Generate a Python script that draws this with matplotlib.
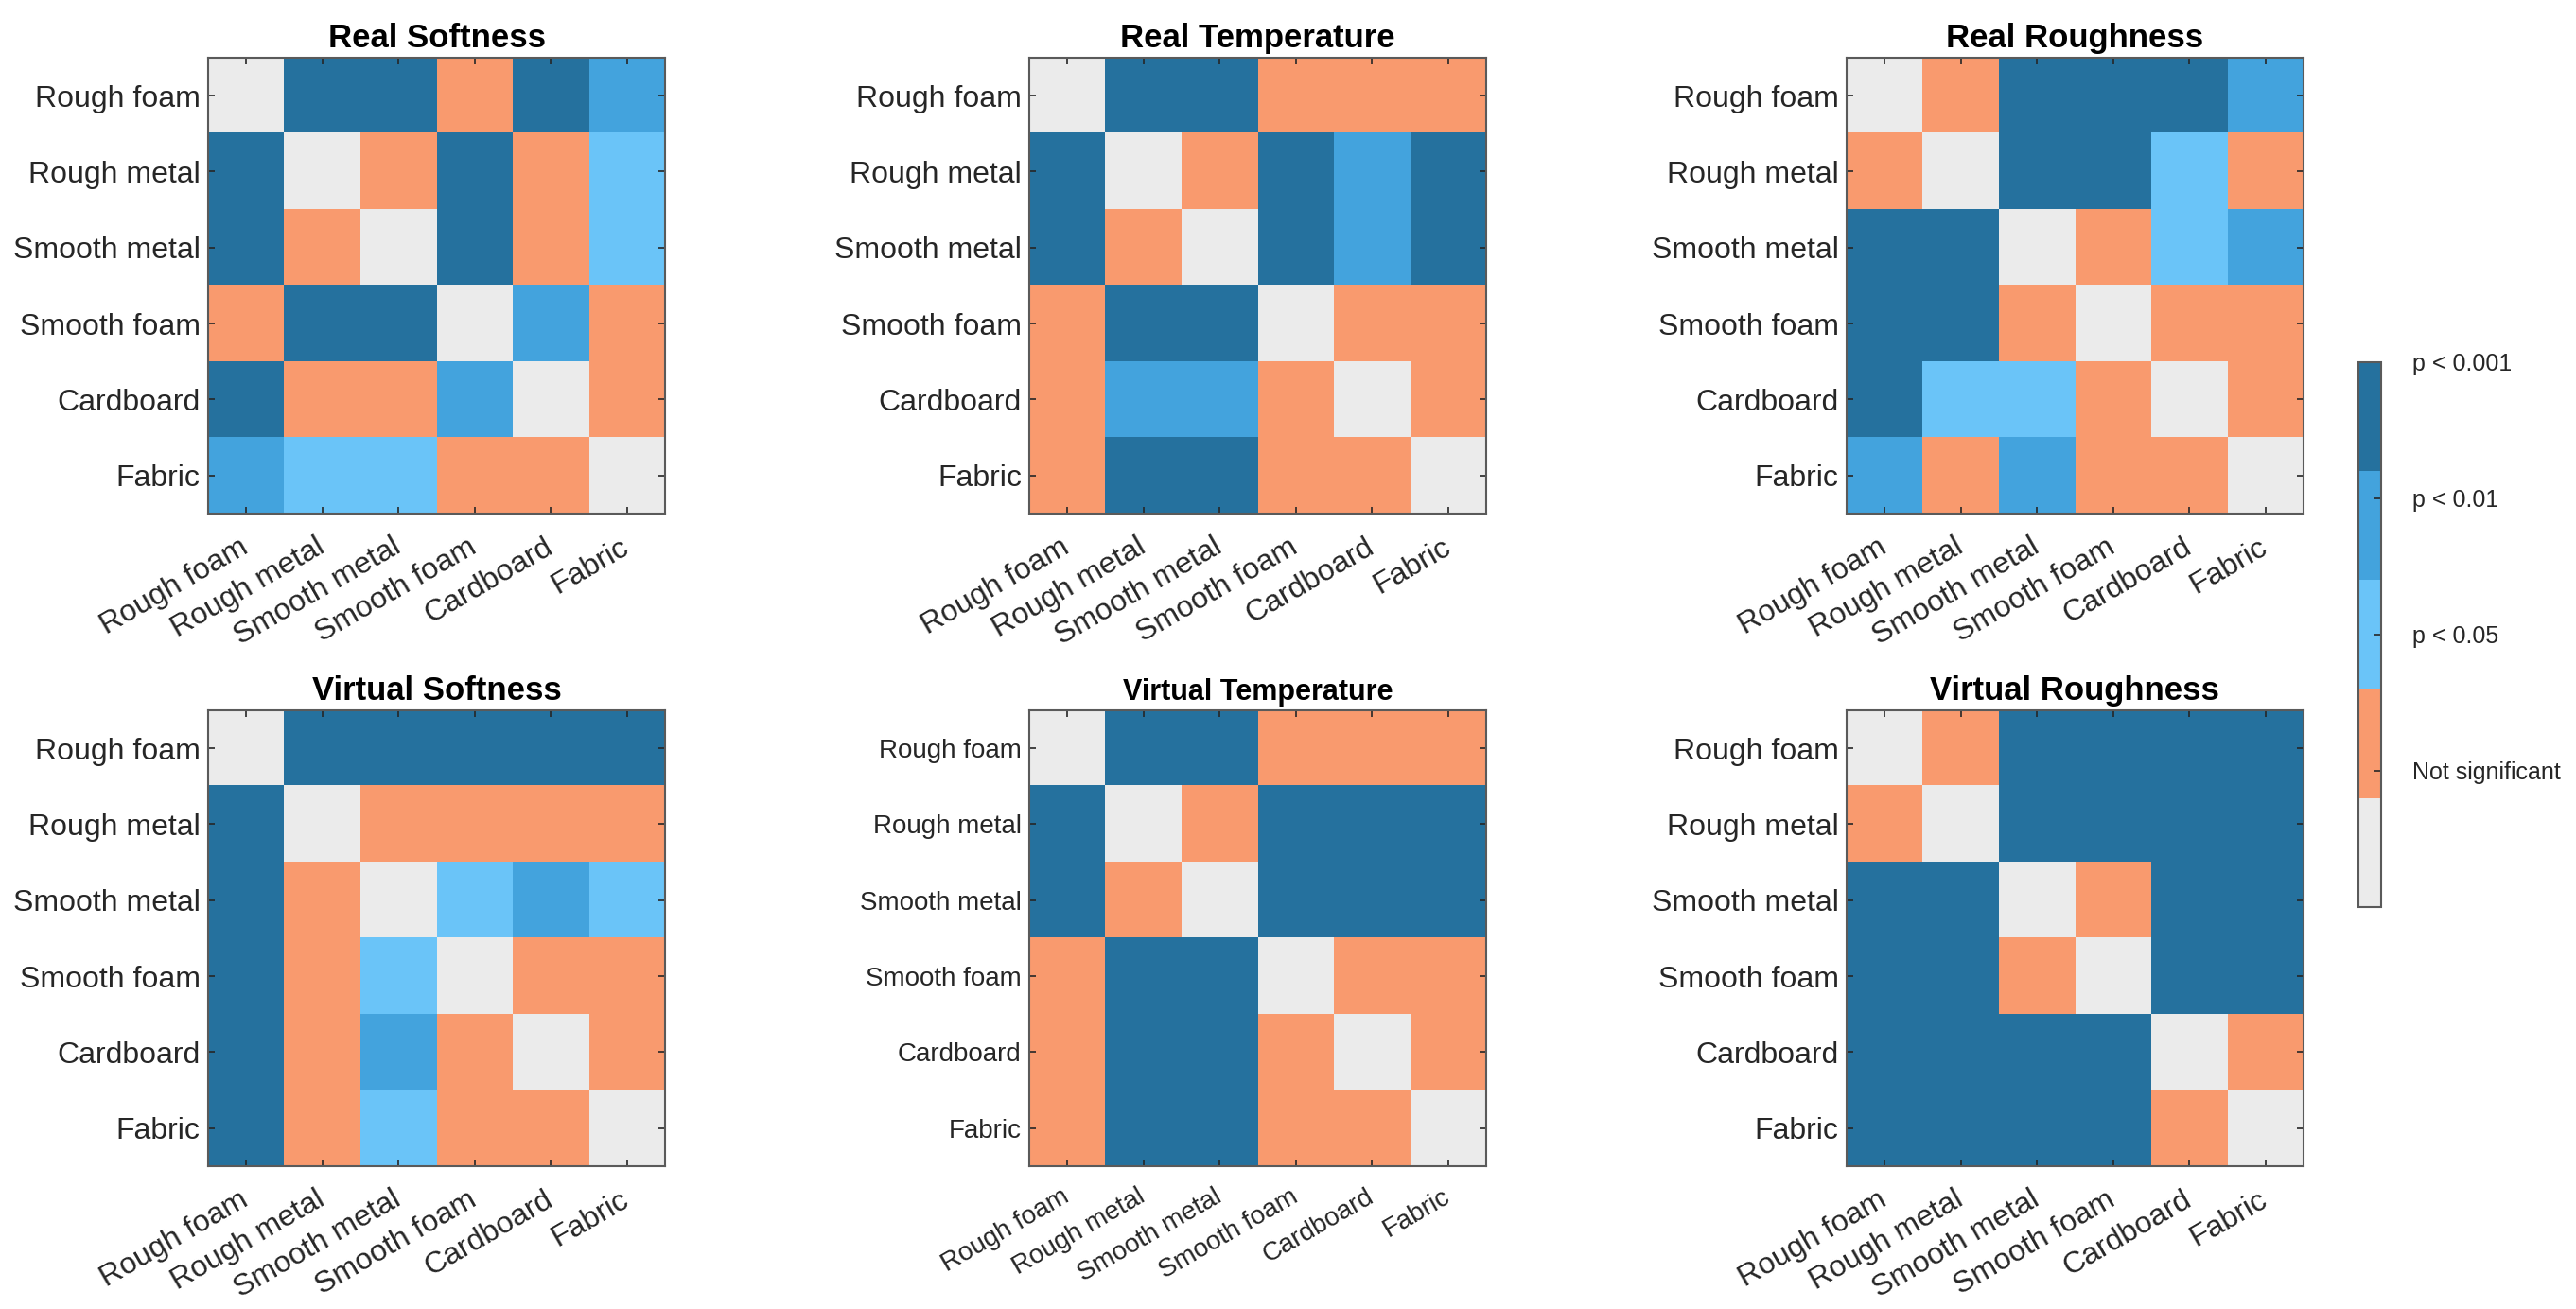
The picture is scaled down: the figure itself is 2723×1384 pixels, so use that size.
import matplotlib
matplotlib.use("Agg")
import matplotlib.pyplot as plt
from matplotlib.colors import ListedColormap
import numpy as np

plt.rcParams['font.family'] = ['Liberation Sans', 'DejaVu Sans']

# categorias (mesma ordem nas linhas e colunas)
materials = ['Rough foam', 'Rough metal', 'Smooth metal', 'Smooth foam', 'Cardboard', 'Fabric']

# codigos: 0 = diagonal, 1 = nao significativo, 2 = p<0.05, 3 = p<0.01, 4 = p<0.001
real_softness = [[0, 4, 4, 1, 4, 3],
                 [4, 0, 1, 4, 1, 2],
                 [4, 1, 0, 4, 1, 2],
                 [1, 4, 4, 0, 3, 1],
                 [4, 1, 1, 3, 0, 1],
                 [3, 2, 2, 1, 1, 0]]
real_temperature = [[0, 4, 4, 1, 1, 1],
                    [4, 0, 1, 4, 3, 4],
                    [4, 1, 0, 4, 3, 4],
                    [1, 4, 4, 0, 1, 1],
                    [1, 3, 3, 1, 0, 1],
                    [1, 4, 4, 1, 1, 0]]
real_roughness = [[0, 1, 4, 4, 4, 3],
                  [1, 0, 4, 4, 2, 1],
                  [4, 4, 0, 1, 2, 3],
                  [4, 4, 1, 0, 1, 1],
                  [4, 2, 2, 1, 0, 1],
                  [3, 1, 3, 1, 1, 0]]
virtual_softness = [[0, 4, 4, 4, 4, 4],
                    [4, 0, 1, 1, 1, 1],
                    [4, 1, 0, 2, 3, 2],
                    [4, 1, 2, 0, 1, 1],
                    [4, 1, 3, 1, 0, 1],
                    [4, 1, 2, 1, 1, 0]]
virtual_temperature = [[0, 4, 4, 1, 1, 1],
                       [4, 0, 1, 4, 4, 4],
                       [4, 1, 0, 4, 4, 4],
                       [1, 4, 4, 0, 1, 1],
                       [1, 4, 4, 1, 0, 1],
                       [1, 4, 4, 1, 1, 0]]
virtual_roughness = [[0, 1, 4, 4, 4, 4],
                     [1, 0, 4, 4, 4, 4],
                     [4, 4, 0, 1, 4, 4],
                     [4, 4, 1, 0, 4, 4],
                     [4, 4, 4, 4, 0, 1],
                     [4, 4, 4, 4, 1, 0]]

titles = ['Real Softness', 'Real Temperature', 'Real Roughness',
          'Virtual Softness', 'Virtual Temperature', 'Virtual Roughness']
matrices = [real_softness, real_temperature, real_roughness,
            virtual_softness, virtual_temperature, virtual_roughness]

cbar_ticks = [1, 2, 3, 4]
cbar_labels = ['Not significant', 'p < 0.05', 'p < 0.01', 'p < 0.001']

# cores: diagonal, nao signif., p<0.05, p<0.01, p<0.001
cmap = ListedColormap(['#EBEBEB', '#F99A6E', '#6AC4F8', '#43A3DD', '#25719E'])

fig = plt.figure(figsize=(27.23, 13.84), dpi=100, facecolor='w')

lefts = [0.0808, 0.3996, 0.7168]
bottoms = [0.6077, 0.1091]
w, h = 0.1774, 0.3483

edge = '#5a5a5a'
im = None
for i, (title, mat) in enumerate(zip(titles, matrices)):
    ax = fig.add_axes([lefts[i % 3], bottoms[i // 3], w, h])
    im = ax.imshow(np.array(mat), cmap=cmap, vmin=0, vmax=4,
                   interpolation='nearest', aspect='auto')
    small = (title == 'Virtual Temperature')   # este painel tem fonte menor
    fs_tick = 20 if small else 23
    fs_title = 22 if small else 25
    ax.set_xticks(range(len(materials)))
    ax.set_yticks(range(len(materials)))
    ax.set_xticklabels(materials, rotation=30, ha='right', va='center',
                       rotation_mode='anchor', fontsize=fs_tick, color='#262626')
    ax.set_yticklabels(materials, fontsize=fs_tick, color='#262626')
    ax.tick_params(direction='in', length=5, width=1.2, color='#262626',
                   top=True, right=True, pad=6)
    ax.tick_params(axis='x', pad=22 if small else 24)
    for s in ax.spines.values():
        s.set_color(edge)
        s.set_linewidth(1.5)
    ax.set_title(title, fontsize=fs_title, fontweight='bold', pad=8)

cax = fig.add_axes([0.9155, 0.3071, 0.0088, 0.4162])
cb = fig.colorbar(im, cax=cax, ticks=cbar_ticks)
cb.ax.set_yticklabels(cbar_labels, fontsize=18, color='#262626')
cb.ax.tick_params(direction='in', length=5, width=1.2, color='#262626', pad=24)
cb.outline.set_edgecolor(edge)
cb.outline.set_linewidth(1.5)

plt.savefig('out.png', dpi=100)
